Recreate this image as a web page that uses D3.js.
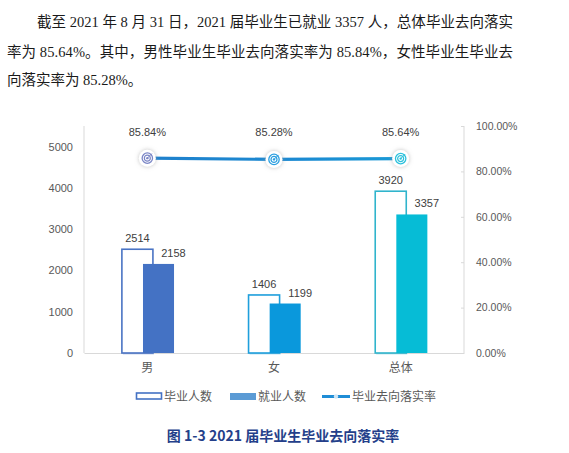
<!DOCTYPE html>
<html>
<head>
<meta charset="utf-8">
<script src="https://cdn.jsdelivr.net/npm/d3@7"></script>
<style>
  html, body { margin: 0; padding: 0; background: #fff; }
  svg { display: block; }
</style>
</head>
<body>
<svg id="chart" width="569" height="453"></svg>
<script>
// --- data ---
const categories = ["男", "女", "总体"];
const graduates = [2514, 1406, 3920];
const employed = [2158, 1199, 3357];
const rates = [0.8584, 0.8528, 0.8564];
const leftTicks = [0, 1000, 2000, 3000, 4000, 5000];
const rightTicks = [0, 0.2, 0.4, 0.6, 0.8, 1.0];
const legendLabels = ["毕业人数", "就业人数", "毕业去向落实率"];
const paragraph = [
  "截至 2021 年 8 月 31 日，2021 届毕业生已就业 3357 人，总体毕业去向落实",
  "率为 85.64%。其中，男性毕业生毕业去向落实率为 85.84%，女性毕业生毕业去",
  "向落实率为 85.28%。"
];
const caption = "图 1-3 2021 届毕业生毕业去向落实率";

// colours per category
const outlineColors = ["#4a74c4", "#1f9fdc", "#30b4cc"];
const fillColors = ["#4472c4", "#0a98dc", "#06bcd6"];
const markerColors = ["#7b86c6", "#2b9fe0", "#2cc1dc"];

const svg = d3.select("#chart");
const cjk = "'Noto Sans CJK SC', 'Liberation Sans', sans-serif";
const serif = "'Liberation Serif', 'Noto Sans CJK SC', serif";
const num = "'Liberation Sans', Arial, sans-serif";

// --- paragraph above the chart ---
const paraX = [37, 7, 7];
const paraY = [27, 57, 85];
paragraph.forEach((t, i) => {
  const txt = svg.append("text")
    .attr("x", paraX[i]).attr("y", paraY[i])
    .attr("font-family", serif)
    .attr("font-size", 14.5)
    .attr("fill", "#1a1a1a")
    .text(t);
  if (i < 2) txt.attr("textLength", 513 - paraX[i]).attr("lengthAdjust", "spacing");
});

// --- scales ---
const plot = { left: 84, right: 464, top: 126, bottom: 353 };
const x = d3.scaleBand().domain(categories).range([plot.left, plot.right]);
const yL = d3.scaleLinear().domain([0, 5500]).range([plot.bottom, plot.top]);
const yR = d3.scaleLinear().domain([0, 1]).range([plot.bottom, plot.top]);

const defs = svg.append("defs");
const glow = defs.append("filter").attr("id", "glow")
  .attr("x", "-80%").attr("y", "-80%").attr("width", "260%").attr("height", "260%");
glow.append("feDropShadow").attr("dx", 0).attr("dy", 0)
  .attr("stdDeviation", 2.2).attr("flood-color", "#9a9a9a").attr("flood-opacity", 0.6);

const lineGrad = defs.append("linearGradient").attr("id", "lineGrad")
  .attr("gradientUnits", "userSpaceOnUse")
  .attr("x1", x.bandwidth() / 2 + plot.left).attr("x2", plot.right - x.bandwidth() / 2)
  .attr("y1", 0).attr("y2", 0);
lineGrad.append("stop").attr("offset", "0%").attr("stop-color", "#1f80cc");
lineGrad.append("stop").attr("offset", "60%").attr("stop-color", "#1b8ad2");
lineGrad.append("stop").attr("offset", "100%").attr("stop-color", "#1a9ad6");

// --- axes ---
const axisColor = "#d9d9d9";
const labelColor = "#595959";

const gL = svg.append("g").attr("transform", `translate(${plot.left},0)`)
  .call(d3.axisLeft(yL).tickValues(leftTicks).tickSize(0).tickPadding(11).tickFormat(d3.format("d")));
gL.select(".domain").attr("stroke", axisColor).attr("d", `M0,${plot.top}V${plot.bottom}`);
gL.selectAll("text").attr("font-family", num).attr("font-size", 11).attr("fill", labelColor);

const gR = svg.append("g").attr("transform", `translate(${plot.right},0)`)
  .call(d3.axisRight(yR).tickValues(rightTicks).tickSize(0).tickPadding(12).tickFormat(d3.format(".2%")));
gR.select(".domain").attr("stroke", axisColor).attr("d", `M0,${plot.top}V${plot.bottom}`);
gR.selectAll("text").attr("font-family", num).attr("font-size", 10.5).attr("fill", labelColor);
gR.selectAll(".tick").append("line").attr("x1", -3).attr("x2", 0).attr("stroke", axisColor);

const gX = svg.append("g").attr("transform", `translate(0,${plot.bottom})`)
  .call(d3.axisBottom(x).tickSize(0).tickPadding(10));
gX.select(".domain").attr("stroke", axisColor);
gX.selectAll("text").attr("font-family", cjk).attr("font-size", 12).attr("fill", labelColor);

// --- bars ---
const bw = x.bandwidth();
const barW = bw * 0.245;
const cx = d => x(d) + bw / 2;
const outX = d => cx(d) - barW * 0.82;
const fillX = d => outX(d) + barW * 0.68;

const bars = svg.append("g");
bars.selectAll("rect.grad-shadow")
  .data(categories).join("rect")
  .attr("class", "grad-shadow")
  .attr("x", d => outX(d) + 1).attr("y", plot.bottom - 1)
  .attr("width", barW).attr("height", 2.5)
  .attr("fill", (d, i) => outlineColors[i]).attr("opacity", 0.3);

bars.selectAll("rect.grad")
  .data(categories).join("rect")
  .attr("class", "grad")
  .attr("x", d => outX(d)).attr("y", (d, i) => yL(graduates[i]))
  .attr("width", barW).attr("height", (d, i) => plot.bottom - yL(graduates[i]))
  .attr("fill", "#fff").attr("stroke", (d, i) => outlineColors[i]).attr("stroke-width", 1.6);

bars.selectAll("rect.emp")
  .data(categories).join("rect")
  .attr("class", "emp")
  .attr("x", d => fillX(d)).attr("y", (d, i) => yL(employed[i]))
  .attr("width", barW).attr("height", (d, i) => plot.bottom - yL(employed[i]))
  .attr("fill", (d, i) => fillColors[i]);

// bar labels
bars.selectAll("text.glabel")
  .data(categories).join("text")
  .attr("class", "glabel")
  .attr("x", d => outX(d) + barW / 2).attr("y", (d, i) => yL(graduates[i]) - 7)
  .attr("text-anchor", "middle")
  .attr("font-family", num).attr("font-size", 11).attr("fill", "#404040")
  .text((d, i) => graduates[i]);

bars.selectAll("text.elabel")
  .data(categories).join("text")
  .attr("class", "elabel")
  .attr("x", d => fillX(d) + barW / 2 + 15).attr("y", (d, i) => yL(employed[i]) - 7)
  .attr("text-anchor", "middle")
  .attr("font-family", num).attr("font-size", 11).attr("fill", "#404040")
  .text((d, i) => employed[i]);

// --- rate line ---
const line = d3.line().x((d, i) => cx(categories[i])).y(d => yR(d));
svg.append("path").datum(rates)
  .attr("d", line).attr("fill", "none")
  .attr("stroke", "url(#lineGrad)").attr("stroke-width", 3.2);

const markers = svg.append("g").selectAll("g")
  .data(rates).join("g")
  .attr("transform", (d, i) => `translate(${cx(categories[i])},${yR(d)})`);
markers.append("circle").attr("r", 8.5).attr("fill", "#fff").attr("filter", "url(#glow)");
markers.append("circle").attr("r", 5.2).attr("fill", "none")
  .attr("stroke", (d, i) => markerColors[i]).attr("stroke-width", 1.3);
markers.append("circle").attr("r", 3).attr("fill", "none")
  .attr("stroke", (d, i) => markerColors[i]).attr("stroke-width", 1.2);
markers.append("circle").attr("r", 1.2).attr("fill", (d, i) => markerColors[i]);
markers.append("line").attr("x1", 0).attr("y1", 0).attr("x2", 4.5).attr("y2", -4.5)
  .attr("stroke", (d, i) => markerColors[i]).attr("stroke-width", 1);

svg.append("g").selectAll("text")
  .data(rates).join("text")
  .attr("x", (d, i) => cx(categories[i])).attr("y", 136)
  .attr("text-anchor", "middle")
  .attr("font-family", num).attr("font-size", 11).attr("fill", "#404040")
  .text(d => d3.format(".2%")(d));

// --- legend ---
const lg = svg.append("g").attr("font-family", cjk).attr("font-size", 12).attr("fill", labelColor);
lg.append("rect").attr("x", 136.5).attr("y", 393).attr("width", 25).attr("height", 6)
  .attr("fill", "#fff").attr("stroke", "#4472c4").attr("stroke-width", 1.6);
lg.append("text").attr("x", 164).attr("y", 400.5).text(legendLabels[0]);
lg.append("rect").attr("x", 230).attr("y", 393).attr("width", 26).attr("height", 7)
  .attr("fill", "#5b9bd5");
lg.append("text").attr("x", 258).attr("y", 400.5).text(legendLabels[1]);
lg.append("line").attr("x1", 322).attr("x2", 350).attr("y1", 396.5).attr("y2", 396.5)
  .attr("stroke", "#1f8dd6").attr("stroke-width", 3);
lg.append("circle").attr("cx", 336).attr("cy", 396.5).attr("r", 2.2).attr("fill", "#cfe6f5");
lg.append("text").attr("x", 352).attr("y", 400.5).text(legendLabels[2]);

// --- caption ---
svg.append("text")
  .attr("x", 283).attr("y", 441)
  .attr("text-anchor", "middle")
  .attr("font-family", "'Noto Sans CJK SC', 'Liberation Serif', serif")
  .attr("font-weight", "bold")
  .attr("font-size", 14)
  .attr("fill", "#243f8a")
  .text(caption);
</script>
</body>
</html>
